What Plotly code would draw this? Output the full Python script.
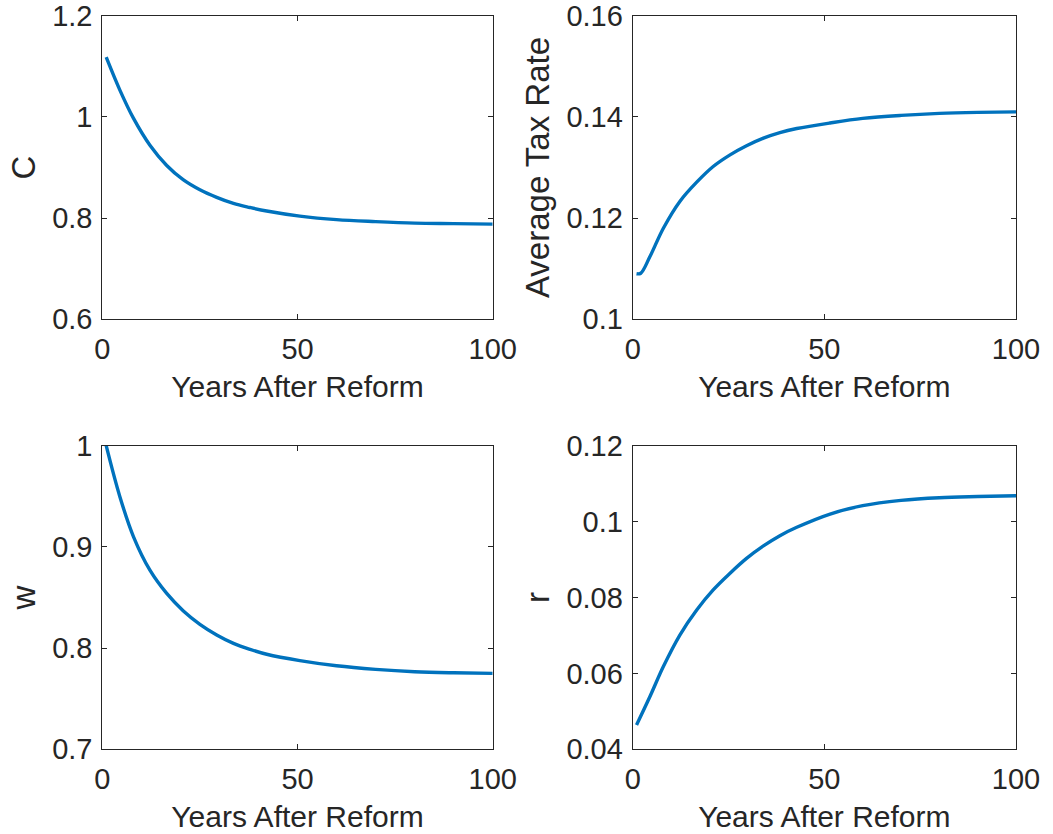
import plotly.graph_objects as go

# Transition paths after the reform (years 1..100)
years_c = [1, 4.5, 8, 12.2, 16.5, 20.7, 25, 29.3, 33.6, 37.8, 42.1, 50.6, 60, 70, 80, 90, 100]
consumption = [1.118, 1.053, 0.997, 0.944, 0.904, 0.876, 0.856, 0.841, 0.829, 0.821,
               0.814, 0.804, 0.797, 0.793, 0.790, 0.789, 0.788]

years_tax = [1, 2.1, 4.5, 8, 12.3, 16.7, 21, 25.4, 29.7, 34.1, 38.4, 42.8, 51.5, 60, 70, 80, 90, 100]
avg_tax_rate = [0.1090, 0.1091, 0.1124, 0.1180, 0.1233, 0.1271, 0.1302, 0.1325, 0.1343,
                0.1358, 0.1369, 0.1377, 0.1388, 0.1397, 0.1403, 0.1407, 0.1409, 0.1410]

years_w = [1, 4.5, 8, 12.2, 16.5, 20.7, 25, 29.3, 33.6, 37.8, 42.1, 50.6, 60, 70, 80, 90, 100]
wage = [1.000, 0.9496, 0.910, 0.877, 0.854, 0.837, 0.8235, 0.813, 0.8047, 0.7988,
        0.7939, 0.7876, 0.7825, 0.7790, 0.7767, 0.7756, 0.775]

years_r = [1, 4.5, 8, 12.3, 16.7, 21, 25.4, 29.7, 34.1, 38.4, 42.8, 51.5, 60, 70, 80, 90, 100]
interest = [0.0464, 0.0539, 0.0618, 0.0701, 0.0767, 0.0820, 0.0864, 0.0903, 0.0936,
            0.0963, 0.0985, 0.1020, 0.1042, 0.1056, 0.1063, 0.1066, 0.1068]

x_ticks = [0, 50, 100]
x_tick_text = ["0", "50", "100"]
c_ticks = [0.6, 0.8, 1.0, 1.2]
c_tick_text = ["0.6", "0.8", "1", "1.2"]
tax_ticks = [0.10, 0.12, 0.14, 0.16]
tax_tick_text = ["0.1", "0.12", "0.14", "0.16"]
w_ticks = [0.7, 0.8, 0.9, 1.0]
w_tick_text = ["0.7", "0.8", "0.9", "1"]
r_ticks = [0.04, 0.06, 0.08, 0.10, 0.12]
r_tick_text = ["0.04", "0.06", "0.08", "0.1", "0.12"]

LINE_COLOR = "#0072BD"
TEXT_COLOR = "#262626"
FONT = "Liberation Sans, Arial, Helvetica, sans-serif"
W, H = 1053, 834

panels = [
    # (x, y, xaxis id, yaxis id, x-domain px, y-domain px (top, bottom), y range, ticks, text, ylabel)
    (years_c, consumption, "x", "y", (102.3, 492.7), (15.7, 319.3), [0.6, 1.2],
     c_ticks, c_tick_text, "C"),
    (years_tax, avg_tax_rate, "x2", "y2", (632.7, 1016.0), (15.7, 319.3), [0.10, 0.16],
     tax_ticks, tax_tick_text, "Average Tax Rate"),
    (years_w, wage, "x3", "y3", (102.3, 492.7), (445.7, 749.3), [0.7, 1.0],
     w_ticks, w_tick_text, "w"),
    (years_r, interest, "x4", "y4", (632.7, 1016.0), (445.7, 749.3), [0.04, 0.12],
     r_ticks, r_tick_text, "r"),
]

fig = go.Figure()
layout = dict(
    width=W, height=H,
    margin=dict(l=0, r=0, t=0, b=0),
    paper_bgcolor="white", plot_bgcolor="white",
    showlegend=False,
    font=dict(family=FONT, color=TEXT_COLOR, size=29),
)

axis_common = dict(
    showline=True, linecolor=TEXT_COLOR, linewidth=1, mirror="ticks",
    ticks="inside", ticklen=5, tickwidth=1, tickcolor=TEXT_COLOR,
    showgrid=False, zeroline=False, automargin=False,
    ticklabeloverflow="allow",
    tickfont=dict(family=FONT, size=29, color=TEXT_COLOR),
)

for xs, ys, xa, ya, xdom, ydom, yrange, yt, ytt, ylabel in panels:
    fig.add_trace(go.Scatter(
        x=xs, y=ys, mode="lines", xaxis=xa, yaxis=ya,
        line=dict(color=LINE_COLOR, width=3.4, shape="spline", smoothing=1.0),
        hoverinfo="skip",
    ))
    xkey = "xaxis" + xa[1:]
    ykey = "yaxis" + ya[1:]
    layout[xkey] = dict(
        axis_common,
        domain=[xdom[0] / W, xdom[1] / W],
        anchor=ya, range=[0, 100],
        tickvals=x_ticks, ticktext=x_tick_text,
        ticklabelstandoff=4,
        title=dict(text="Years After Reform", font=dict(size=30, family=FONT, color=TEXT_COLOR),
                   standoff=11),
    )
    layout[ykey] = dict(
        axis_common,
        domain=[1 - ydom[1] / H, 1 - ydom[0] / H],
        anchor=xa, range=yrange,
        tickvals=yt, ticktext=ytt,
        ticklabelstandoff=3,
        title=dict(text=ylabel, font=dict(size=33, family=FONT, color=TEXT_COLOR),
                   standoff=6),
    )

fig.update_layout(**layout)
fig.write_html("out.html")
